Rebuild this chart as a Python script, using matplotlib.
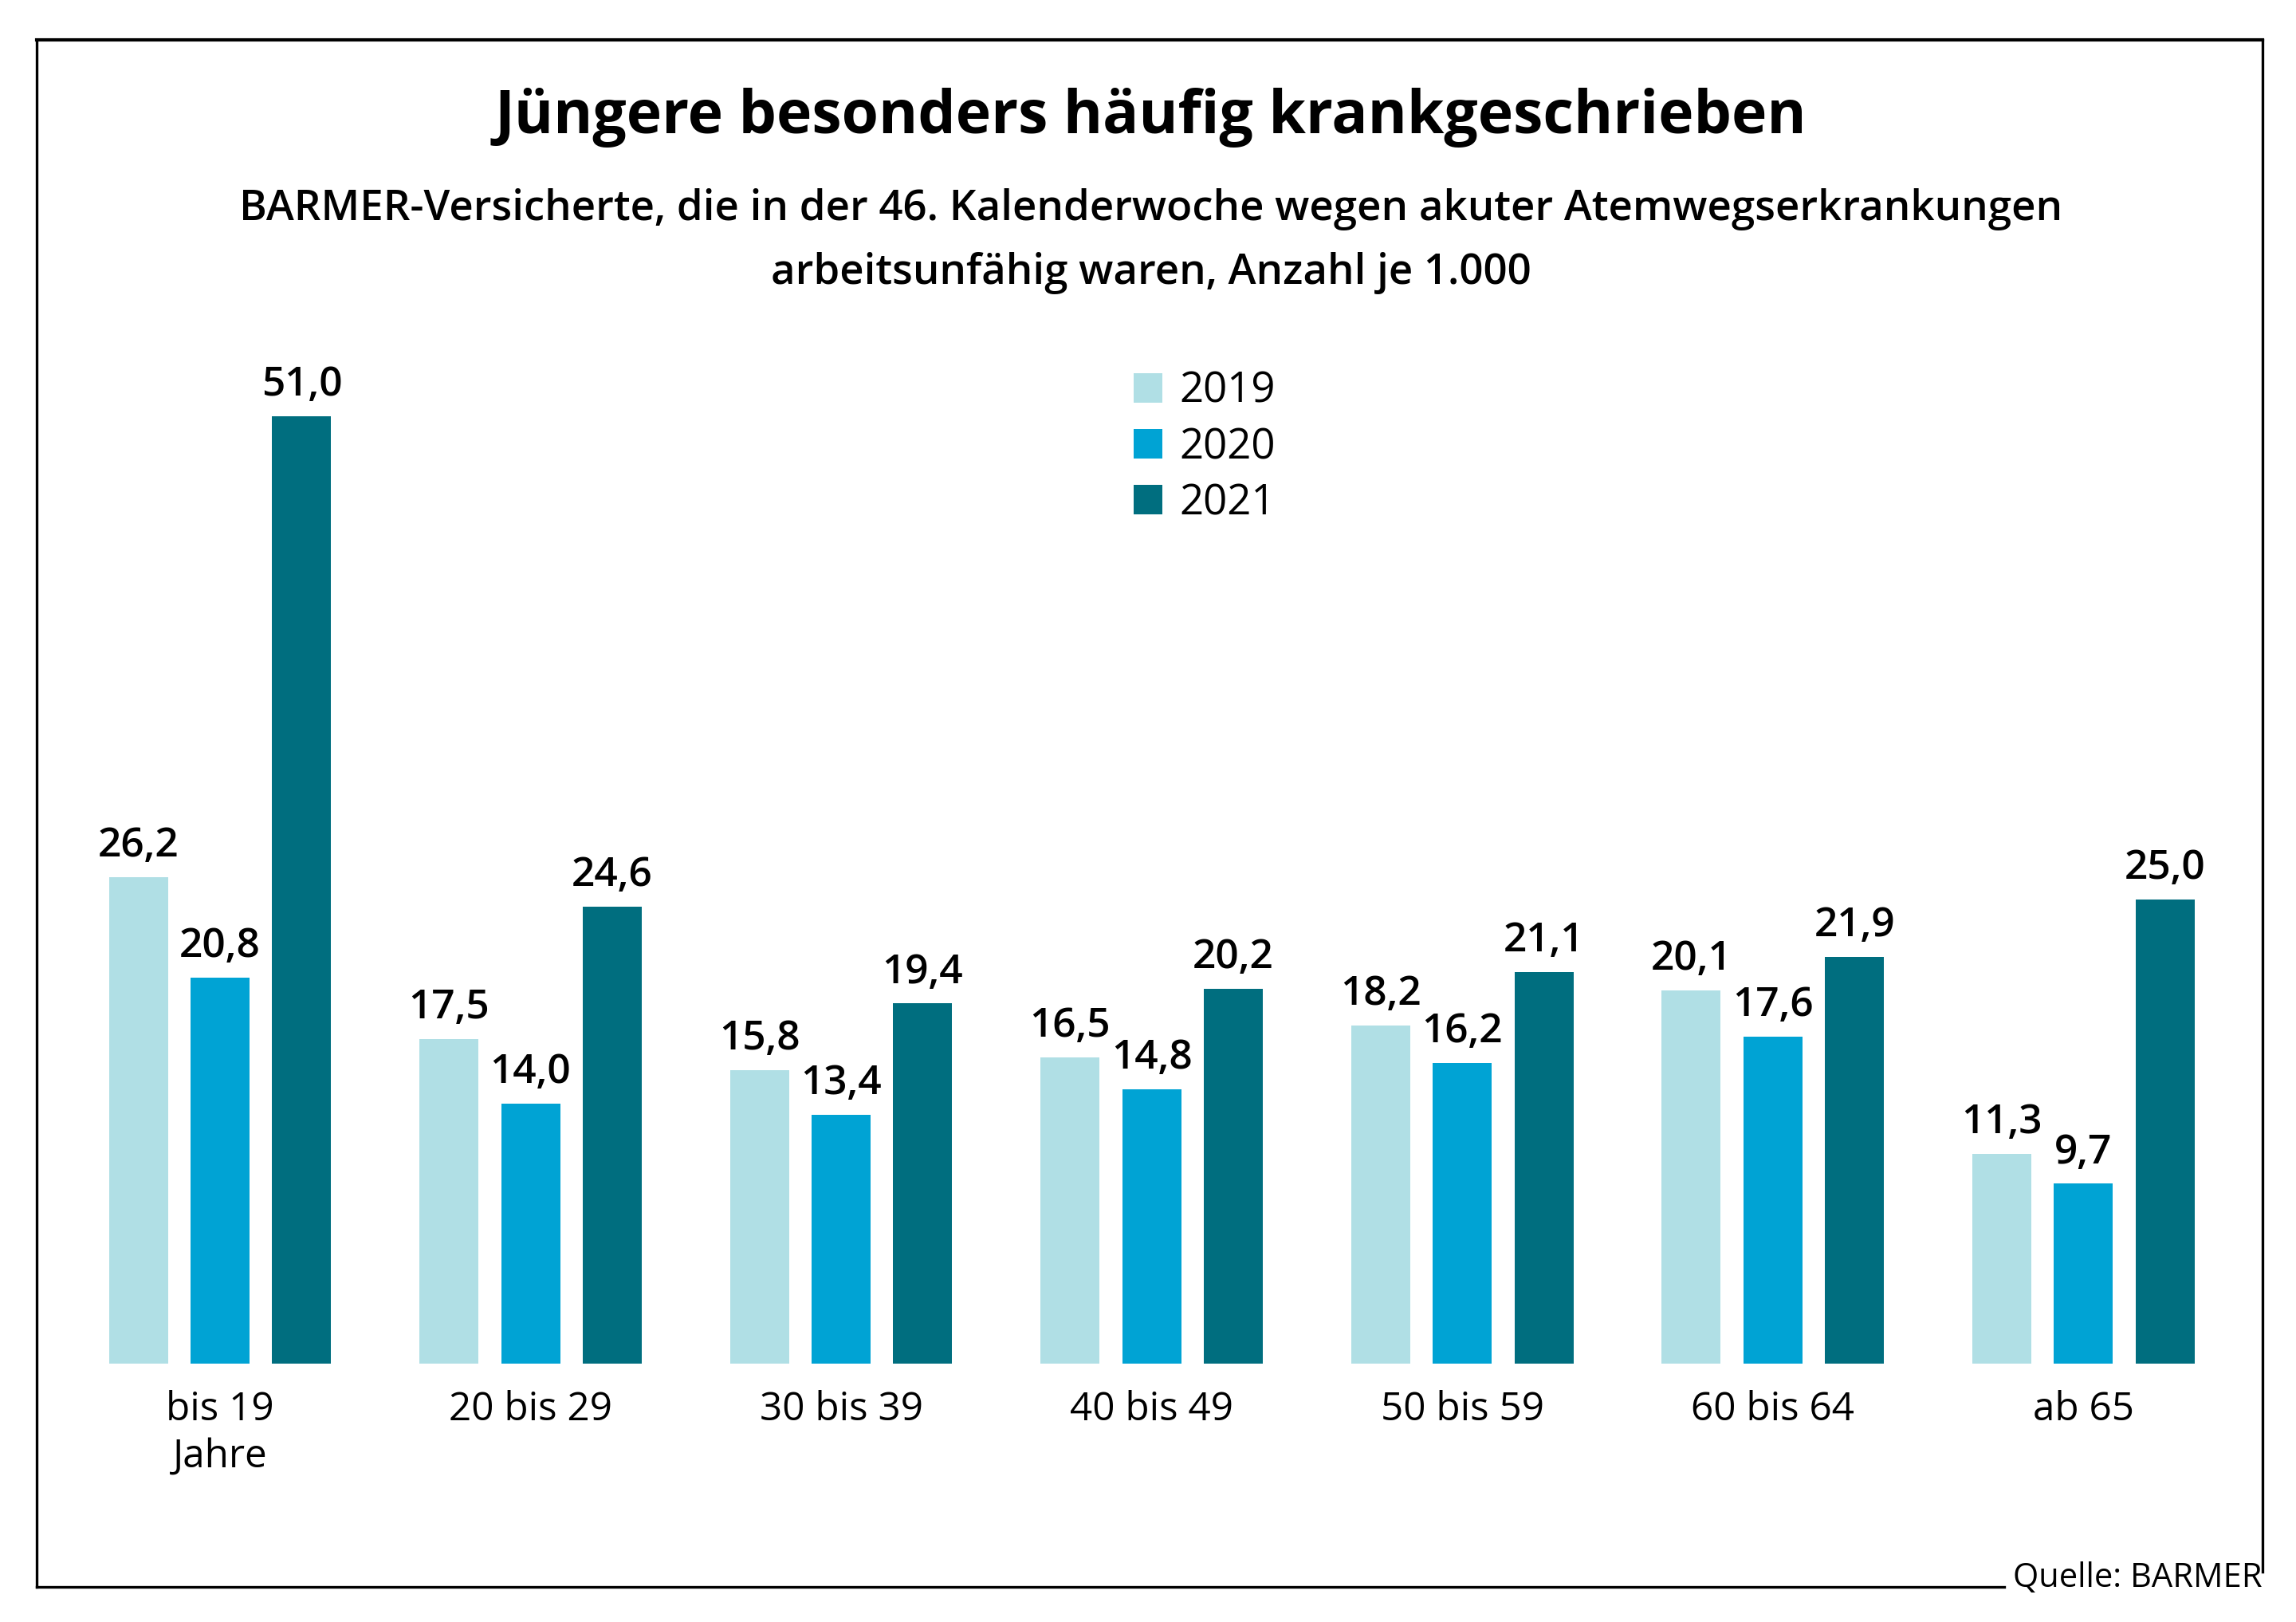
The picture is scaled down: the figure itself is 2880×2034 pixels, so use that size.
import numpy as np
import matplotlib.pyplot as plt
from matplotlib.lines import Line2D

# Daten
gruppen = ["bis 19\nJahre", "20 bis 29", "30 bis 39", "40 bis 49", "50 bis 59", "60 bis 64", "ab 65"]
jahre = ["2019", "2020", "2021"]
werte_2019 = [26.2, 17.5, 15.8, 16.5, 18.2, 20.1, 11.3]
werte_2020 = [20.8, 14.0, 13.4, 14.8, 16.2, 17.6, 9.7]
werte_2021 = [51.0, 24.6, 19.4, 20.2, 21.1, 21.9, 25.0]
farben = ["#B0DFE5", "#00A3D4", "#006E7F"]

plt.rcParams['font.family'] = ['Open Sans', 'DejaVu Sans']

fig = plt.figure(figsize=(14.4, 10.17), dpi=200)
ax = fig.add_axes([25 / 1560, 1 - 925 / 1100, (1537 - 25) / 1560, (925 - 27) / 1100])

x = np.arange(len(gruppen))
breite = 0.19
abstand = 0.263
for i, (werte, farbe, jahr) in enumerate(zip([werte_2019, werte_2020, werte_2021], farben, jahre)):
    pos = x + (i - 1) * abstand
    ax.bar(pos, werte, width=breite, color=farbe, label=jahr)
    for p, v in zip(pos, werte):
        ax.annotate(f"{v:.1f}".replace(".", ","), (p, v), xytext=(0, 5), textcoords="offset points",
                    ha="center", va="bottom", fontsize=18.5, fontweight="semibold")

ax.set_xlim(-0.590, 6.576)
ax.set_ylim(0, 71.27)
ax.set_xticks(x)
ax.set_xticklabels(gruppen, fontsize=17.8, linespacing=1.25)
ax.tick_params(axis="x", length=0, pad=12)
ax.set_yticks([])
for s in ax.spines.values():
    s.set_visible(False)
ax.patch.set_alpha(0)

ax.legend(loc="upper left", bbox_to_anchor=((770 - 25) / 1512, (925 - 251) / 898), frameon=False,
          fontsize=19, handlelength=0.7, handleheight=0.7, handletextpad=0.4, labelspacing=0.32,
          borderaxespad=0, borderpad=0)

# Titel
fig.text(782 / 1560, 1 - 80 / 1100, "Jüngere besonders häufig krankgeschrieben", ha="center", va="center",
         fontsize=27, fontweight="bold")
fig.text(782 / 1560, 1 - 142 / 1100, "BARMER-Versicherte, die in der 46. Kalenderwoche wegen akuter Atemwegserkrankungen",
         ha="center", va="center", fontsize=19, fontweight="semibold")
fig.text(782 / 1560, 1 - 185 / 1100, "arbeitsunfähig waren, Anzahl je 1.000",
         ha="center", va="center", fontsize=19, fontweight="semibold")

# Rahmen
l, r, o, u = 25 / 1560, 1537 / 1560, 1 - 27 / 1100, 1 - 1076 / 1100
fig.add_artist(Line2D([l, r], [o, o], color="black", lw=1.5, transform=fig.transFigure))
fig.add_artist(Line2D([l, l], [o, u], color="black", lw=1.2, transform=fig.transFigure))
fig.add_artist(Line2D([r, r], [o, 1 - 1066 / 1100], color="black", lw=1.2, transform=fig.transFigure))
fig.add_artist(Line2D([l, 1362 / 1560], [u, u], color="black", lw=1.2, transform=fig.transFigure))
fig.text(r, u, "Quelle: BARMER", ha="right", va="baseline", fontsize=15)

plt.savefig("out.png", dpi=200)
